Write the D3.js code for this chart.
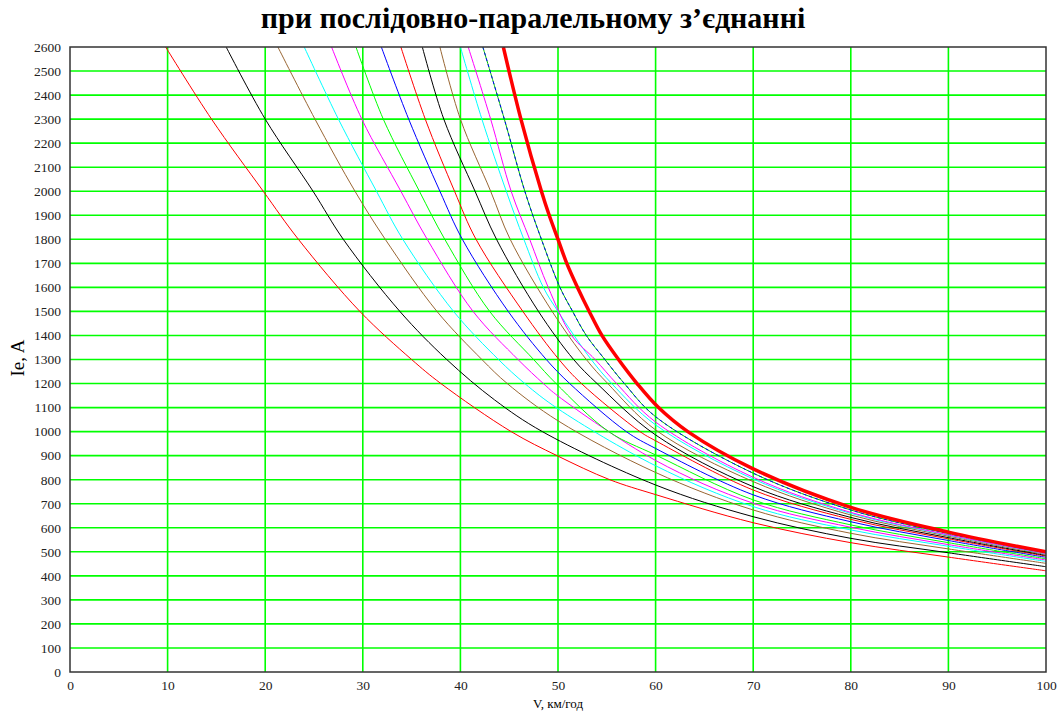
<!DOCTYPE html>
<html>
<head>
<meta charset="utf-8">
<script src="https://cdn.jsdelivr.net/npm/d3@7"></script>
<style>
  body { margin: 0; background: #fff; }
  svg { display: block; font-family: "Liberation Serif", "Times New Roman", serif; }
</style>
</head>
<body>
<div id="chart"></div>
<script>
// [V, Ie] pairs for each trace
var red1     = [[9.8,2600],[14.5,2300],[19.8,2000],[23.4,1800],[29.7,1500],[35.0,1300],[38.0,1200],[45.2,1000],[49.9,900],[55.3,800],[60,738],[70,621],[80,538],[90,478],[100,421]];
var black1   = [[16.0,2600],[20.0,2300],[24.9,2000],[28.0,1800],[33.8,1500],[38.6,1300],[43.5,1132],[48.4,1000],[60,778],[70,646],[80,556],[90,496],[100,438]];
var brown1   = [[21.3,2600],[25.1,2300],[29.2,2000],[32.3,1800],[37.6,1500],[42.2,1300],[44.8,1200],[50,1045],[60,830],[70,674],[80,577],[90,512],[100,452]];
var cyan1    = [[24.0,2600],[27.5,2300],[31.4,2000],[34.1,1800],[39.3,1500],[43.9,1300],[46.6,1200],[50,1095],[60,858],[70,688],[80,591],[90,523],[100,460]];
var magenta1 = [[26.8,2600],[29.9,2300],[33.9,2000],[36.6,1800],[41.3,1500],[45.9,1300],[48.5,1200],[50,1148],[60,880],[70,702],[80,602],[90,530],[100,466]];
var green1   = [[29.3,2600],[32.1,2300],[35.8,2000],[38.4,1800],[43.0,1500],[47.5,1300],[49.8,1200],[55.2,1000],[60,903],[70,716],[80,612],[90,538],[100,471]];
var blue1    = [[31.9,2600],[34.7,2300],[37.9,2000],[40.2,1800],[44.9,1500],[48.8,1300],[51.2,1200],[57.0,1000],[60,930],[70,737],[80,625],[90,547],[100,477]];
var red2     = [[33.9,2600],[36.4,2300],[39.4,2000],[41.6,1800],[46.4,1500],[50.1,1300],[52.4,1200],[58.4,1000],[60,962],[70,757],[80,635],[90,554],[100,482]];
var black2   = [[36.1,2600],[38.3,2300],[41.5,2000],[43.7,1800],[48.0,1500],[51.6,1300],[54.0,1200],[60,986],[70,771],[80,643],[90,559],[100,485]];
var brown2   = [[37.9,2600],[40.0,2300],[43.1,2000],[45.1,1800],[49.4,1500],[52.9,1300],[55.1,1200],[60,1007],[70,792],[80,653],[90,565],[100,489]];
var cyan2    = [[40.0,2600],[42.2,2300],[44.7,2000],[46.5,1800],[48.5,1600],[50.0,1500],[53.4,1300],[55.5,1200],[60,1028],[70,803],[80,660],[90,569],[100,492]];
var magenta2 = [[40.8,2600],[43.1,2300],[45.2,2000],[47.1,1800],[49.0,1600],[51.4,1400],[53.8,1300],[56.0,1200],[60,1040],[70,810],[80,664],[90,571],[100,493]];
var green2   = [[42.3,2600],[44.5,2300],[46.6,2000],[48.3,1800],[50.2,1600],[51.5,1500],[52.9,1400],[54.8,1300],[56.8,1200],[60,1062],[70,827],[80,674],[90,576],[100,496]];
var blue2    = [[42.3,2600],[44.5,2300],[46.6,2000],[48.3,1800],[50.2,1600],[51.5,1500],[52.9,1400],[54.8,1300],[56.8,1200],[60,1062],[70,827],[80,674],[90,576],[100,496]];
var thickRed = [[44.4,2600],[46.2,2300],[48.3,2000],[49.1,1900],[50.0,1800],[50.9,1700],[52.0,1600],[53.2,1500],[54.5,1400],[56.2,1300],[58.1,1200],[60.3,1100],[63.3,1000],[70,845],[80,685],[90,582],[100,500]];

var xTicks = d3.range(0, 101, 10);
var yTicks = d3.range(0, 2601, 100);

var titleText = "при послідовно-паралельному з’єднанні";
var xTitle = "V, км/год";
var yTitle = "Ie, A";

var W = 1064, H = 715;
var mLeft = 70, mRight = 1046, mTop = 47, mBottom = 672;

var svg = d3.select("#chart").append("svg")
	.attr("width", W)
	.attr("height", H);

var x = d3.scaleLinear().domain([0, 100]).range([mLeft, mRight]);
var y = d3.scaleLinear().domain([0, 2600]).range([mBottom, mTop]);

svg.append("text")
	.attr("x", 533)
	.attr("y", 28)
	.attr("text-anchor", "middle")
	.style("font-size", "30px")
	.style("font-weight", "bold")
	.text(titleText);

//grid
var grid = svg.append("g");
grid.selectAll("line.gx").data(xTicks.slice(1, -1)).enter().append("line")
	.attr("x1", function(d) { return x(d); })
	.attr("x2", function(d) { return x(d); })
	.attr("y1", mTop).attr("y2", mBottom)
	.attr("stroke", "#00ff00").attr("stroke-width", 1.6);
grid.selectAll("line.gy").data(yTicks.slice(1, -1)).enter().append("line")
	.attr("y1", function(d) { return y(d); })
	.attr("y2", function(d) { return y(d); })
	.attr("x1", mLeft).attr("x2", mRight)
	.attr("stroke", "#00ff00").attr("stroke-width", 1.6);

svg.append("clipPath").attr("id", "plot")
	.append("rect")
	.attr("x", mLeft).attr("y", mTop)
	.attr("width", mRight - mLeft).attr("height", mBottom - mTop);

var line = d3.line()
	.x(function(d) { return x(d[0]); })
	.y(function(d) { return y(d[1]); })
	.curve(d3.curveCatmullRom.alpha(0.5));

var traces = [
	{ data: red1, color: "#ff0000", w: 1 },
	{ data: black1, color: "#000000", w: 1 },
	{ data: brown1, color: "#996633", w: 1 },
	{ data: cyan1, color: "#00ffff", w: 1 },
	{ data: magenta1, color: "#ff00ff", w: 1 },
	{ data: green1, color: "#00ff00", w: 1 },
	{ data: blue1, color: "#0000ff", w: 1 },
	{ data: red2, color: "#ff0000", w: 1 },
	{ data: black2, color: "#000000", w: 1 },
	{ data: brown2, color: "#996633", w: 1 },
	{ data: cyan2, color: "#00ffff", w: 1 },
	{ data: magenta2, color: "#ff00ff", w: 1 },
	{ data: green2, color: "#00c000", w: 1 },
	{ data: blue2, color: "#0000ff", w: 1, dash: "3,3" },
	{ data: thickRed, color: "#ff0000", w: 3.5 }
];

svg.append("g").attr("clip-path", "url(#plot)")
	.selectAll("path").data(traces).enter().append("path")
	.attr("d", function(t) { return line(t.data); })
	.attr("fill", "none")
	.attr("stroke", function(t) { return t.color; })
	.attr("stroke-width", function(t) { return t.w; })
	.attr("stroke-dasharray", function(t) { return t.dash || null; });

//frame
svg.append("rect")
	.attr("x", mLeft).attr("y", mTop)
	.attr("width", mRight - mLeft).attr("height", mBottom - mTop)
	.attr("fill", "none").attr("stroke", "#333").attr("stroke-width", 1.5);

//axes, no tick marks
var xAxis = svg.append("g")
	.attr("transform", "translate(0," + mBottom + ")")
	.call(d3.axisBottom(x).tickValues(xTicks).tickSize(0).tickPadding(8).tickFormat(d3.format("d")));
var yAxis = svg.append("g")
	.attr("transform", "translate(" + mLeft + ",0)")
	.call(d3.axisLeft(y).tickValues(yTicks).tickSize(0).tickPadding(9).tickFormat(d3.format("d")));
[xAxis, yAxis].forEach(function(a) {
	a.select(".domain").remove();
	a.selectAll("text")
		.style("font-family", "Liberation Serif, serif")
		.style("font-size", "13.5px")
		.attr("fill", "#222");
});

svg.append("text")
	.attr("x", 558).attr("y", 708)
	.attr("text-anchor", "middle")
	.style("font-size", "13px")
	.text(xTitle);

svg.append("text")
	.attr("transform", "translate(24,358) rotate(-90)")
	.attr("text-anchor", "middle")
	.style("font-size", "19px")
	.text(yTitle);
</script>
</body>
</html>
